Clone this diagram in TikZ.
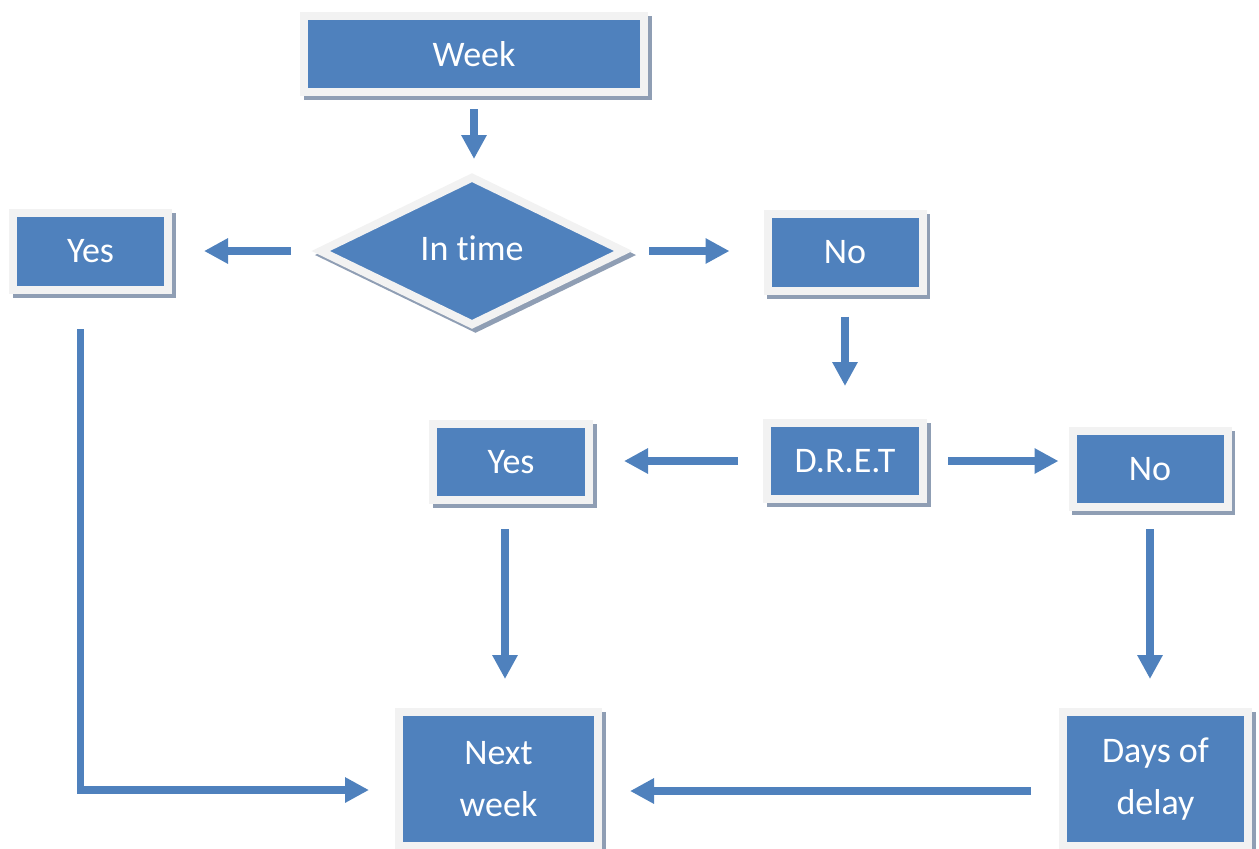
\documentclass[tikz,border=0pt]{standalone}
\usepackage{fontspec}
\setmainfont{Carlito}[Ligatures=NoCommon]
\usetikzlibrary{arrows.meta,shapes.geometric}
\definecolor{boxblue}{RGB}{79,129,189}
\definecolor{boxrim}{RGB}{242,242,242}
\definecolor{boxshade}{RGB}{143,158,180}

\begin{document}
\begin{tikzpicture}[x=0.5pt, y=-0.5pt,
    box/.style={draw=boxrim, fill=boxblue, line width=4pt, text=white,
      inner sep=0pt, align=center, font=\fontsize{18}{26}\selectfont,
      preaction={draw=boxshade, fill=boxshade, line width=4pt,
        transform canvas={xshift=1.75pt, yshift=-2pt}}},
    arr/.style={draw=boxblue, line width=3.75pt,
      -{Triangle[length=12pt, width=12pt]}}]
        \useasboundingbox (0,0) rectangle (1259,848);

        % Nodes
        \node[box, minimum width=170pt, minimum height=38pt] (week) at (474,54) {Week};
        \node[box, diamond, minimum width=153pt, minimum height=75pt] (intime) at (472,251) {\raisebox{3pt}{In time}};
        \node[box, minimum width=77.5pt, minimum height=38.5pt] (yes1) at (90.5,251.5) {Yes};
        \node[box, minimum width=77.5pt, minimum height=38.5pt] (no1) at (845,252) {No};
        \node[box, minimum width=78pt, minimum height=38pt] (dret) at (845,461) {D.R.E.T};
        \node[box, minimum width=78pt, minimum height=38pt] (yes2) at (511,462) {Yes};
        \node[box, minimum width=77.5pt, minimum height=38pt] (no2) at (1150,469) {No};
        \node[box, minimum width=99.5pt, minimum height=67pt] (next) at (498.5,779) {Next\\week};
        \node[box, minimum width=92.5pt, minimum height=67pt] (days) at (1155.5,779) {Days of\\delay};

        % Edges
        \draw[arr, shorten <=6.5pt, shorten >=6.5pt] (week.south) -- (week.south |- intime.north);
        \draw[arr, shorten <=12pt, shorten >=16pt] (intime.west) -- (intime.west -| yes1.east);
        \draw[arr, shorten <=10pt, shorten >=17pt] (intime.east) -- (intime.east -| no1.west);
        \draw[arr, shorten <=11pt, shorten >=16.5pt] (no1.south) -- (dret.north);
        \draw[arr, shorten <=12.5pt, shorten >=15.5pt] (dret.west) -- (dret.west -| yes2.east);
        \draw[arr, shorten <=10.5pt, shorten >=5pt] (dret.east) -- (dret.east -| no2.west);
        \draw[arr, shorten <=12.5pt, shorten >=14.5pt] ([xshift=-3pt]yes2.south) -- ([xshift=-3pt]yes2.south |- next.north);
        \draw[arr, shorten <=9pt, shorten >=14.5pt] (no2.south) -- (no2.south |- days.north);

        % Back to next week
        \draw[arr, shorten <=17.5pt, shorten >=13pt] ([xshift=-5pt]yes1.south) |- ([yshift=-5.5pt]next.west);
        \draw[arr, shorten <=14pt, shorten >=14pt] ([yshift=-6pt]days.west) -- ([yshift=-6pt]next.east);
    \end{tikzpicture}
\end{document}
